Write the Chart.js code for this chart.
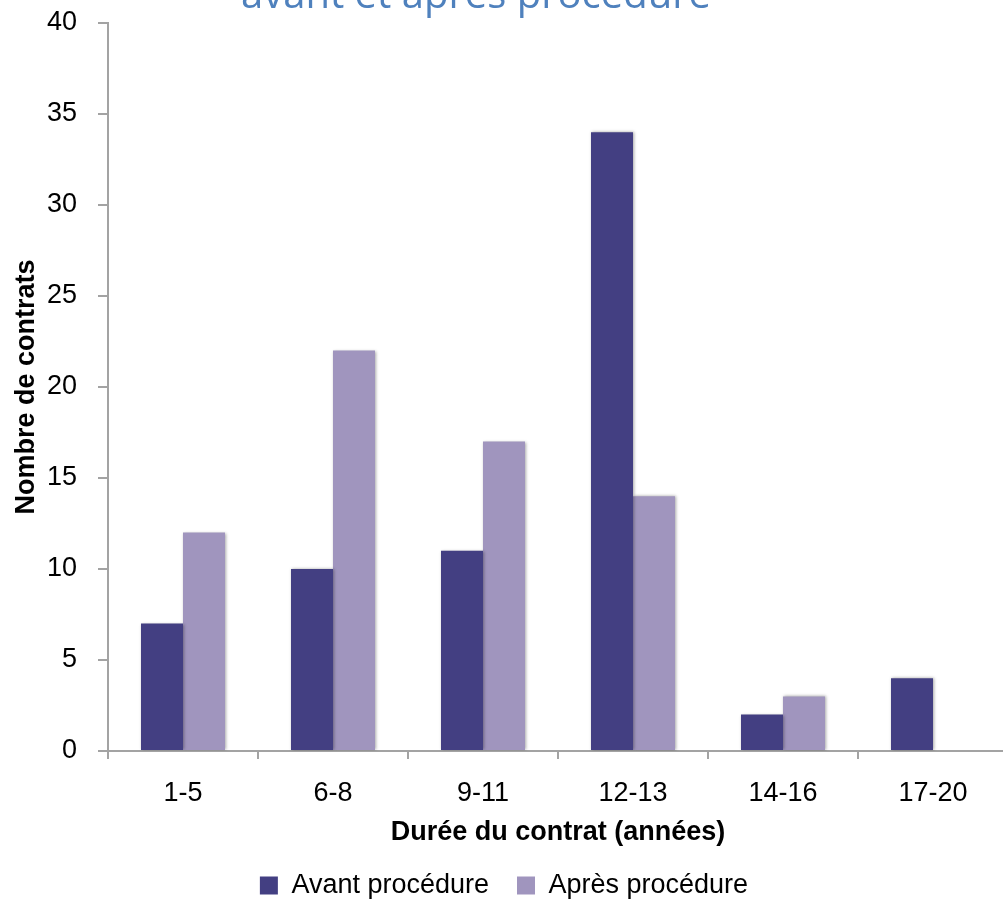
<!DOCTYPE html>
<html>
<head>
<meta charset="utf-8">
<script src="https://cdn.jsdelivr.net/npm/chart.js@4.4.1/dist/chart.umd.min.js"></script>
<style>
  html, body { margin: 0; padding: 0; background: #ffffff; overflow: hidden; width: 1003px; height: 901px; }
  #wrap { position: absolute; left: 0; top: 0; width: 1010px; height: 909px; }
</style>
</head>
<body>
<div id="wrap"><canvas id="chart"></canvas></div>
<script>
// Durée du contrat, par tranche d'années
const categories = ['1-5', '6-8', '9-11', '12-13', '14-16', '17-20'];
// Nombre de contrats par tranche
const avantProcedure = [7, 10, 11, 34, 2, 4];
const apresProcedure = [12, 22, 17, 14, 3, 0];
// Graduations de l'axe vertical
const yTickValues = [0, 5, 10, 15, 20, 25, 30, 35, 40];
const titleLine = 'avant et après procédure';

const AXIS_GREY = '#a3a3a3';
const FONT = '"Liberation Sans", Arial, sans-serif';

// Titre (ligne du bas, coupée par le bord supérieur)
const headline = {
  id: 'headline',
  afterDraw(chart) {
    const ctx = chart.ctx;
    ctx.save();
    ctx.font = '40px "Open Sans", sans-serif';
    ctx.fillStyle = '#4f81bd';
    ctx.textAlign = 'center';
    ctx.textBaseline = 'alphabetic';
    ctx.fillText(titleLine, 476, 8);
    ctx.restore();
  }
};

// Ombre légère autour des barres
const barShadow = {
  id: 'barShadow',
  beforeDatasetsDraw(chart) {
    const ctx = chart.ctx;
    ctx.save();
    ctx.shadowColor = 'rgba(0,0,0,0.35)';
    ctx.shadowBlur = 3;
    ctx.shadowOffsetX = 1;
    ctx.shadowOffsetY = 0;
  },
  afterDatasetsDraw(chart) {
    chart.ctx.restore();
  }
};

new Chart(document.getElementById('chart'), {
  type: 'bar',
  data: {
    labels: categories,
    datasets: [
      { label: 'Avant procédure', data: avantProcedure, backgroundColor: '#433f82', borderWidth: 0 },
      { label: 'Après procédure', data: apresProcedure, backgroundColor: '#a095be', borderWidth: 0 }
    ]
  },
  options: {
    responsive: true,
    maintainAspectRatio: false,
    animation: false,
    devicePixelRatio: 1,
    layout: { padding: { top: 23, right: 2, bottom: 0, left: 0 } },
    datasets: { bar: { categoryPercentage: 0.56, barPercentage: 1.0 } },
    scales: {
      x: {
        afterFit(scale) { scale.height = 93; },
        grid: {
          display: true, offset: true, drawOnChartArea: false, drawTicks: true,
          tickLength: 8, color: AXIS_GREY, lineWidth: 2
        },
        border: { display: true, color: AXIS_GREY, width: 2 },
        ticks: { color: '#000', font: { family: FONT, size: 27 }, padding: 18 },
        title: {
          display: true, text: 'Durée du contrat (années)', color: '#000',
          font: { family: FONT, size: 27, weight: 'bold' }, padding: { top: 0, bottom: -5 }
        }
      },
      y: {
        min: 0, max: 40,
        afterBuildTicks(scale) { scale.ticks = yTickValues.map(v => ({ value: v })); },
        afterFit(scale) { scale.width = 108; scale.paddingTop = 0; scale.paddingBottom = 0; },
        grid: {
          display: true, drawOnChartArea: false, drawTicks: true,
          tickLength: 10, color: AXIS_GREY, lineWidth: 2
        },
        border: { display: true, color: AXIS_GREY, width: 2 },
        ticks: { color: '#000', font: { family: FONT, size: 27 }, padding: 21 },
        title: {
          display: true, text: 'Nombre de contrats', color: '#000',
          font: { family: FONT, size: 27, weight: 'bold' }, padding: { top: 10, bottom: 0 }
        }
      }
    },
    plugins: {
      legend: {
        position: 'bottom',
        labels: {
          boxWidth: 18, boxHeight: 18, padding: 28, color: '#000',
          font: { family: FONT, size: 27 }
        }
      },
      title: { display: false },
      tooltip: { enabled: false }
    }
  },
  plugins: [barShadow, headline]
});
</script>
</body>
</html>
